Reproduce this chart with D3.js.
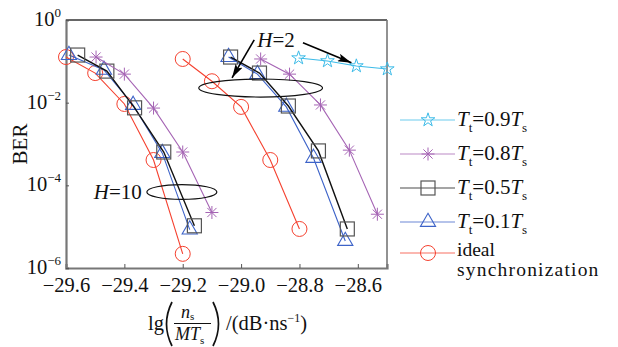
<!DOCTYPE html>
<html><head><meta charset="utf-8">
<script src="https://cdn.jsdelivr.net/npm/d3@7"></script>
<style>
body{margin:0;background:#fff;}
</style></head>
<body><svg id="c" width="618" height="347"></svg>
<script>
// ---- data ----
const xTicks = [-29.6, -29.4, -29.2, -29.0, -28.8, -28.6];
const yTicks = [1, 1e-2, 1e-4, 1e-6];
const yTickExp = ["0", "−2", "−4", "−6"];

// T_t = 0.9 T_s (H=2 only)
const x09 = [-28.803, -28.704, -28.605, -28.499];
const b09 = [0.12, 0.102, 0.077, 0.065];
// T_t = 0.8 T_s
const x08a = [-29.497, -29.40, -29.30, -29.20, -29.10];
const b08a = [0.127, 0.049, 0.0074, 6.4e-4, 2.2e-5];
const x08b = [-28.933, -28.834, -28.728, -28.629, -28.533];
const b08b = [0.114, 0.049, 0.0088, 7.1e-4, 2.0e-5];
// T_t = 0.5 T_s
const x05a = [-29.56, -29.46, -29.365, -29.265, -29.16];
const b05a = [0.142, 0.058, 0.0075, 6.4e-4, 1.05e-5];
const x05b = [-29.036, -28.937, -28.838, -28.735, -28.636];
const b05b = [0.127, 0.052, 0.0083, 6.8e-4, 8.8e-6];
// T_t = 0.1 T_s
const x01a = [-29.59, -29.47, -29.37, -29.27, -29.176];
const b01a = [0.142, 0.062, 0.0088, 6.0e-4, 8.5e-6];
const x01b = [-29.043, -28.944, -28.845, -28.752, -28.643];
const b01b = [0.127, 0.049, 0.0079, 4.6e-4, 4.5e-6];
// ideal synchronization
const xIda = [-29.6, -29.5, -29.4, -29.3, -29.2];
const bIda = [0.127, 0.052, 0.0093, 4.1e-4, 2.2e-6];
const xIdb = [-29.2, -29.1, -29.0, -28.9, -28.8];
const bIdb = [0.114, 0.033, 0.0079, 4.1e-4, 8.8e-6];

const seriesNames = ["0.9", "0.8", "0.5", "0.1", "ideal"];
const seriesColors = ["#3cbbe8", "#a564b4", "#111111", "#3d63c8", "#f5412f"];
const seriesMarkers = ["pentagram", "asterisk", "square", "triangle", "circle"];

// annotations (data units)
const annH10 = {cx: -29.203, cy: 6.9e-5, rx: 0.12, ryDec: 0.18, label: "10"};
const annH2 = {cx: -28.933, cy: 0.0226, rx: 0.212, ryDec: 0.218, label: "2"};
const arrowsH2 = [
  {x1: -28.955, y1: 0.33, x2: -29.031, y2: 0.040},
  {x1: -28.788, y1: 0.28, x2: -28.622, y2: 0.092}
];

// ---- pick an installed serif font ----
function pickFont(list) {
  const cv = document.createElement("canvas").getContext("2d");
  const s = "synchronization 0123456789 BER";
  for (const f of list) {
    let ok = false;
    for (const fb of ["monospace", "sans-serif"]) {
      cv.font = `20px ${fb}`; const w0 = cv.measureText(s).width;
      cv.font = `20px "${f}", ${fb}`; const w1 = cv.measureText(s).width;
      if (Math.abs(w1 - w0) > 0.5) ok = true;
    }
    if (ok) return `"${f}"`;
  }
  return "serif";
}
const FONT = pickFont(["Liberation Serif", "Times New Roman", "Tinos", "Noto Serif", "DejaVu Serif"]);
d3.select("head").append("style").text(`svg text{font-family:${FONT},serif;fill:#111;}`);

// ---- drawing ----
const svg = d3.select("#c");
const L = 66, R = 387, T = 20, B = 268;
const x = d3.scaleLinear().domain([-29.6, -28.5]).range([L, R]);
const y = d3.scaleLog().domain([1e-6, 1]).range([B, T]);

const defs = svg.append("defs");
defs.append("marker").attr("id", "ah").attr("viewBox", "0 0 14 8")
  .attr("refX", 14).attr("refY", 4).attr("markerWidth", 14).attr("markerHeight", 8)
  .attr("markerUnits", "userSpaceOnUse").attr("orient", "auto")
  .append("path").attr("d", "M0,0 L14,4 L0,8 L3,4 Z").attr("fill", "#000");

// frame
svg.append("line").attr("x1", L).attr("x2", R).attr("y1", T).attr("y2", T).attr("stroke", "#333").attr("stroke-width", 1.3);
svg.append("line").attr("x1", R).attr("x2", R).attr("y1", T).attr("y2", B).attr("stroke", "#777").attr("stroke-width", 1.6);

// axes
const gx = svg.append("g").attr("transform", `translate(0,${B})`)
  .call(d3.axisBottom(x).tickValues(xTicks).tickSize(-4).tickPadding(9).tickFormat(d3.format(".1f")));
gx.attr("font-family", null);
gx.select(".domain").attr("stroke", "#777").attr("stroke-width", 2.2);
gx.selectAll(".tick line").attr("stroke", "#555");
gx.selectAll(".tick text").attr("font-size", 20.5).attr("fill", "#111");

const gy = svg.append("g").attr("transform", `translate(${L},0)`)
  .call(d3.axisLeft(y).tickValues(yTicks).tickSize(-3).tickFormat(""));
gy.select(".domain").attr("stroke", "#777").attr("stroke-width", 2.2);
gy.selectAll(".tick line").attr("stroke", "#555");
yTicks.forEach((v, i) => {
  const t = svg.append("text").attr("x", L - 5).attr("y", y(v) + 6).attr("text-anchor", "end").attr("font-size", 20.5);
  t.append("tspan").text("10");
  t.append("tspan").attr("font-size", 13).attr("dy", -9).text(yTickExp[i]);
});
svg.append("text").attr("transform", `translate(27,144) rotate(-90)`).attr("text-anchor", "middle").attr("font-size", 21).text("BER");

// marker factory
function drawMarker(g, type, color, px, py) {
  if (type === "circle") {
    g.append("circle").attr("cx", px).attr("cy", py).attr("r", 7.5).attr("fill", "none").attr("stroke", color).attr("stroke-width", 1);
  } else if (type === "square") {
    g.append("rect").attr("x", px - 7).attr("y", py - 7).attr("width", 14).attr("height", 14).attr("fill", "none").attr("stroke", "#555").attr("stroke-width", 1.2);
  } else if (type === "triangle") {
    g.append("path").attr("d", d3.symbol(d3.symbolTriangle, 100)()).attr("transform", `translate(${px},${py})`).attr("fill", "none").attr("stroke", color).attr("stroke-width", 1.1);
  } else if (type === "pentagram") {
    g.append("path").attr("d", d3.symbol(d3.symbolStar, 58)()).attr("transform", `translate(${px},${py})`).attr("fill", "none").attr("stroke", color).attr("stroke-width", 1);
  } else if (type === "asterisk") {
    const r = 6.5, d = r * 0.707;
    g.append("path").attr("d", `M${px - r},${py}H${px + r}M${px},${py - r}V${py + r}M${px - d},${py - d}L${px + d},${py + d}M${px - d},${py + d}L${px + d},${py - d}`)
      .attr("stroke", color).attr("stroke-width", 1).attr("fill", "none");
  }
}

const line = d3.line().x(d => x(d[0])).y(d => y(d[1]));
const groups = [
  [0, [[x09, b09]]],
  [1, [[x08a, b08a], [x08b, b08b]]],
  [2, [[x05a, b05a], [x05b, b05b]]],
  [3, [[x01a, b01a], [x01b, b01b]]],
  [4, [[xIda, bIda], [xIdb, bIdb]]]
];
const plotG = svg.append("g");
[4, 3, 2, 1, 0].forEach(si => {
  const [, segs] = groups[si];
  segs.forEach(([xs, bs]) => {
    const pts = xs.map((v, i) => [v, bs[i]]);
    plotG.append("path").attr("d", line(pts)).attr("fill", "none")
      .attr("stroke", seriesColors[si]).attr("stroke-width", si === 2 ? 1.4 : 1.1);
    pts.forEach(p => drawMarker(plotG, seriesMarkers[si], seriesColors[si], x(p[0]), y(p[1])));
  });
});

// annotations
function ellipse(a) {
  const cx = x(a.cx), cy = y(a.cy);
  const rx = x(a.cx + a.rx) - cx, ry = y(a.cy / Math.pow(10, a.ryDec)) - cy;
  svg.append("ellipse").attr("cx", cx).attr("cy", cy).attr("rx", rx).attr("ry", ry)
    .attr("fill", "none").attr("stroke", "#111").attr("stroke-width", 1.2);
  return {cx, cy, rx, ry};
}
const e10 = ellipse(annH10);
const t10 = svg.append("text").attr("x", e10.cx - e10.rx - 5).attr("y", e10.cy + 7).attr("text-anchor", "end").attr("font-size", 21);
t10.append("tspan").attr("font-style", "italic").text("H");
t10.append("tspan").text("=" + annH10.label);
ellipse(annH2);
const t2 = svg.append("text").attr("x", x(arrowsH2[0].x1) + 3).attr("y", y(arrowsH2[0].y1) + 7).attr("font-size", 21);
t2.append("tspan").attr("font-style", "italic").text("H");
t2.append("tspan").text("=" + annH2.label);
arrowsH2.forEach(a => {
  svg.append("line").attr("x1", x(a.x1)).attr("y1", y(a.y1)).attr("x2", x(a.x2)).attr("y2", y(a.y2))
    .attr("stroke", "#000").attr("stroke-width", 1.6).attr("marker-end", "url(#ah)");
});

// legend
const legY = [120, 154, 188, 222, 253];
seriesNames.forEach((n, i) => {
  const g = svg.append("g");
  const c = seriesColors[i];
  g.append("line").attr("x1", 400).attr("x2", 455).attr("y1", legY[i]).attr("y2", legY[i])
    .attr("stroke", c).attr("stroke-width", 1.1).attr("opacity", 0.75);
  drawMarker(g, seriesMarkers[i], c, 428, legY[i]);
  if (n === "ideal") {
    g.append("text").attr("x", 457).attr("y", legY[i] + 3).attr("font-size", 19.5).text("ideal");
    g.append("text").attr("x", 457).attr("y", legY[i] + 23).attr("font-size", 19.5).attr("letter-spacing", 1.2).text("synchronization");
  } else {
    const t = g.append("text").attr("x", 457).attr("y", legY[i] + 6).attr("font-size", 21);
    t.append("tspan").attr("font-style", "italic").text("T");
    t.append("tspan").attr("font-size", 13).attr("dy", 6).text("t");
    t.append("tspan").attr("dy", -6).text("=" + n);
    t.append("tspan").attr("font-style", "italic").text("T");
    t.append("tspan").attr("font-size", 13).attr("dy", 6).text("s");
  }
});

// x-axis title: lg( n_s / (M T_s) ) /(dB·ns^-1)
const xt = svg.append("g");
xt.append("text").attr("x", 148).attr("y", 330).attr("font-size", 20.5).text("lg");
xt.append("path").attr("d", "M172,302 Q161,324 172,346").attr("fill", "none").attr("stroke", "#111").attr("stroke-width", 1.7);
xt.append("path").attr("d", "M213,302 Q224,324 213,346").attr("fill", "none").attr("stroke", "#111").attr("stroke-width", 1.7);
const num = xt.append("text").attr("x", 181).attr("y", 318).attr("font-size", 18);
num.append("tspan").attr("font-style", "italic").text("n");
num.append("tspan").attr("font-size", 11).attr("dy", 2).text("s");
xt.append("line").attr("x1", 174).attr("x2", 211).attr("y1", 323.5).attr("y2", 323.5).attr("stroke", "#111").attr("stroke-width", 1.1);
const den = xt.append("text").attr("x", 175).attr("y", 340).attr("font-size", 18);
den.append("tspan").attr("font-style", "italic").text("MT");
den.append("tspan").attr("font-size", 11).attr("dy", 4).text("s");
const un = xt.append("text").attr("x", 226).attr("y", 330).attr("font-size", 20.5);
un.append("tspan").text("/(dB·ns");
un.append("tspan").attr("font-size", 12).attr("dy", -8).text("−1");
un.append("tspan").attr("dy", 8).text(")");
</script></body></html>
